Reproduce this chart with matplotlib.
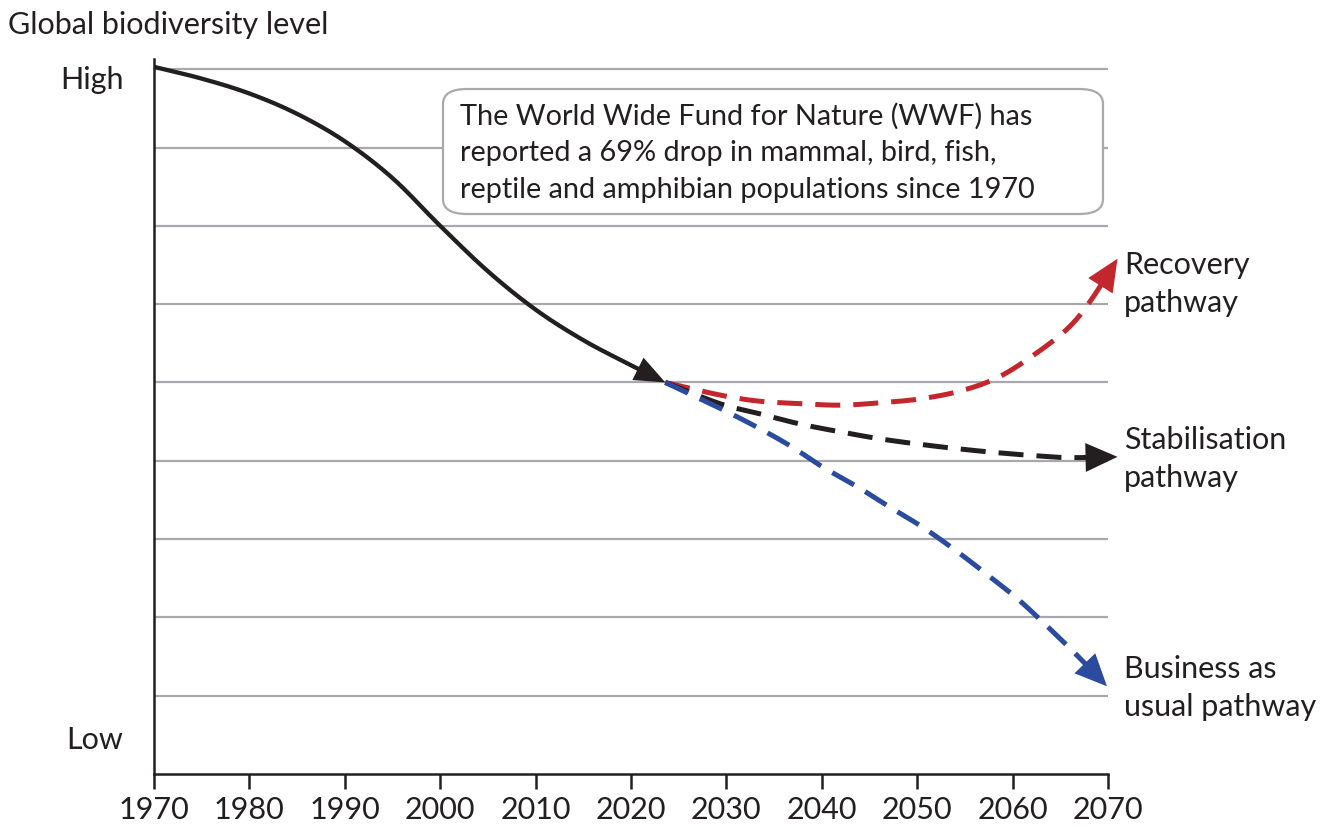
import numpy as np
import matplotlib.pyplot as plt
from matplotlib.patches import FancyBboxPatch

plt.rcParams['font.family'] = ['Lato', 'DejaVu Sans']

# past decline (year, level)
past_years = [1970, 1975, 1980, 1985, 1990, 1995, 2000, 2005, 2010, 2015, 2020, 2023.6]
past_level = [9.03, 8.88, 8.69, 8.43, 8.08, 7.61, 7.00, 6.42, 5.93, 5.54, 5.22, 5.0]

rec_years = [2023.6, 2029.3, 2033.5, 2037.7, 2041.9, 2046.1, 2050.3, 2054.5, 2058.4, 2062.1, 2065.7, 2068.1, 2071.0]
rec_level = [5.0, 4.84, 4.76, 4.73, 4.71, 4.74, 4.79, 4.89, 5.06, 5.34, 5.68, 6.03, 6.58]

stab_years = [2023.6, 2029.3, 2033.5, 2037.7, 2041.9, 2046.1, 2050.3, 2054.5, 2058.7, 2062.9, 2066.0, 2071.0]
stab_level = [5.0, 4.73, 4.60, 4.47, 4.37, 4.28, 4.21, 4.15, 4.10, 4.06, 4.04, 4.05]

bau_years = [2023.6, 2029.0, 2033.2, 2036.7, 2040.1, 2043.7, 2047.1, 2050.6, 2054.2, 2057.3, 2060.5, 2063.6, 2066.8, 2069.9]
bau_level = [5.0, 4.69, 4.43, 4.19, 3.92, 3.67, 3.41, 3.15, 2.84, 2.55, 2.24, 1.89, 1.51, 1.12]

xticks = list(range(1970, 2071, 10))
grid_levels = [1, 2, 3, 4, 5, 6, 7, 8, 9]

RED = '#c1272d'
BLUE = '#2a4b9e'
BLACK = '#231f20'
GREY = '#a7a9ac'

fig = plt.figure(figsize=(13.32, 8.28), dpi=100)
ax = fig.add_axes([0.1156, 0.064, 0.7162, 0.8635])
ax.set_xlim(1970, 2070)
ax.set_ylim(0, 9.13)

for g in grid_levels:
    ax.axhline(g, color=GREY, lw=1.6, zorder=1)


def catmull(xs, ys, n=20):
    # Catmull-Rom through the read points, just to round the corners
    p = np.column_stack([xs, ys]).astype(float)
    p = np.vstack([2 * p[0] - p[1], p, 2 * p[-1] - p[-2]])
    out = []
    t = np.linspace(0, 1, n, endpoint=False)[:, None]
    for i in range(1, len(p) - 2):
        p0, p1, p2, p3 = p[i - 1], p[i], p[i + 1], p[i + 2]
        seg = 0.5 * ((2 * p1) + (-p0 + p2) * t + (2 * p0 - 5 * p1 + 4 * p2 - p3) * t ** 2
                     + (-p0 + 3 * p1 - 3 * p2 + p3) * t ** 3)
        out.append(seg)
    out.append(p[-2][None, :])
    out = np.vstack(out)
    return out[:, 0], out[:, 1]


def draw_arrow(xs, ys, color, style, lw, hl, hw, cut):
    # line stops short of the tip, head is drawn along the end tangent
    disp = ax.transData.transform(np.column_stack([xs, ys]))
    seg = np.hypot(np.diff(disp[:, 0]), np.diff(disp[:, 1]))
    dist_from_end = np.concatenate([np.cumsum(seg[::-1])[::-1], [0]])
    keep = dist_from_end >= cut
    kw = dict(color=color, lw=lw, clip_on=False, zorder=3, solid_capstyle='butt')
    if style == 'dash':
        kw['dashes'] = (5.0, 2.6)
    ax.plot(xs[keep], ys[keep], **kw)
    d = disp[-1] - disp[-6]
    d = d / np.hypot(*d)
    L = 22
    ax.annotate('', xy=(xs[-1], ys[-1]), xytext=(-d[0] * L, -d[1] * L), textcoords='offset points',
                arrowprops=dict(arrowstyle='-|>,head_length=%s,head_width=%s' % (hl, hw),
                                color=color, lw=0, shrinkA=0, shrinkB=0, mutation_scale=20),
                annotation_clip=False, zorder=5)


px, py = catmull(past_years, past_level)
draw_arrow(px, py, BLACK, 'solid', 3.1, 1.1, 0.45, 22)

rx, ry = catmull(rec_years, rec_level)
draw_arrow(rx, ry, RED, 'dash', 3.6, 1.15, 0.52, 22)

sx, sy = catmull(stab_years, stab_level)
draw_arrow(sx, sy, BLACK, 'dash', 3.6, 1.15, 0.52, 22)

bx, by = catmull(bau_years, bau_level)
draw_arrow(bx, by, BLUE, 'dash', 3.6, 1.15, 0.52, 22)

for side in ['top', 'right']:
    ax.spines[side].set_visible(False)
for side in ['left', 'bottom']:
    ax.spines[side].set_linewidth(1.8)
    ax.spines[side].set_color(BLACK)

ax.set_xticks(xticks)
ax.set_xticklabels([str(x) for x in xticks], fontsize=22, color=BLACK)
ax.tick_params(axis='x', length=11, width=1.8, color=BLACK, pad=4)
ax.set_yticks([])

ax.text(-0.032, 8.88, 'High', transform=ax.get_yaxis_transform(), ha='right', va='center', fontsize=22, color=BLACK)
ax.text(-0.032, 0.45, 'Low', transform=ax.get_yaxis_transform(), ha='right', va='center', fontsize=22, color=BLACK)
fig.text(8 / 1332, 1 - 25 / 828, 'Global biodiversity level', ha='left', va='center', fontsize=22, color=BLACK)

box = FancyBboxPatch((443 / 1332, 1 - 215 / 828), (1103 - 443) / 1332, (215 - 90) / 828,
                     boxstyle='round,pad=0,rounding_size=0.018', transform=fig.transFigure,
                     facecolor='white', edgecolor=GREY, lw=1.6, zorder=6)
fig.patches.append(box)
fig.text(460 / 1332, 1 - 153 / 828,
         'The World Wide Fund for Nature (WWF) has\nreported a 69% drop in mammal, bird, fish,\nreptile and amphibian populations since 1970',
         ha='left', va='center', fontsize=20.8, color=BLACK, linespacing=1.5, zorder=7)

lab_x = 1124 / 1332
fig.text(lab_x, 1 - 284 / 828, 'Recovery\npathway', ha='left', va='center', fontsize=22, color=BLACK, linespacing=1.45)
fig.text(lab_x, 1 - 459 / 828, 'Stabilisation\npathway', ha='left', va='center', fontsize=22, color=BLACK, linespacing=1.45)
fig.text(lab_x, 1 - 688 / 828, 'Business as\nusual pathway', ha='left', va='center', fontsize=22, color=BLACK, linespacing=1.45)

fig.savefig('out.png', dpi=100)
